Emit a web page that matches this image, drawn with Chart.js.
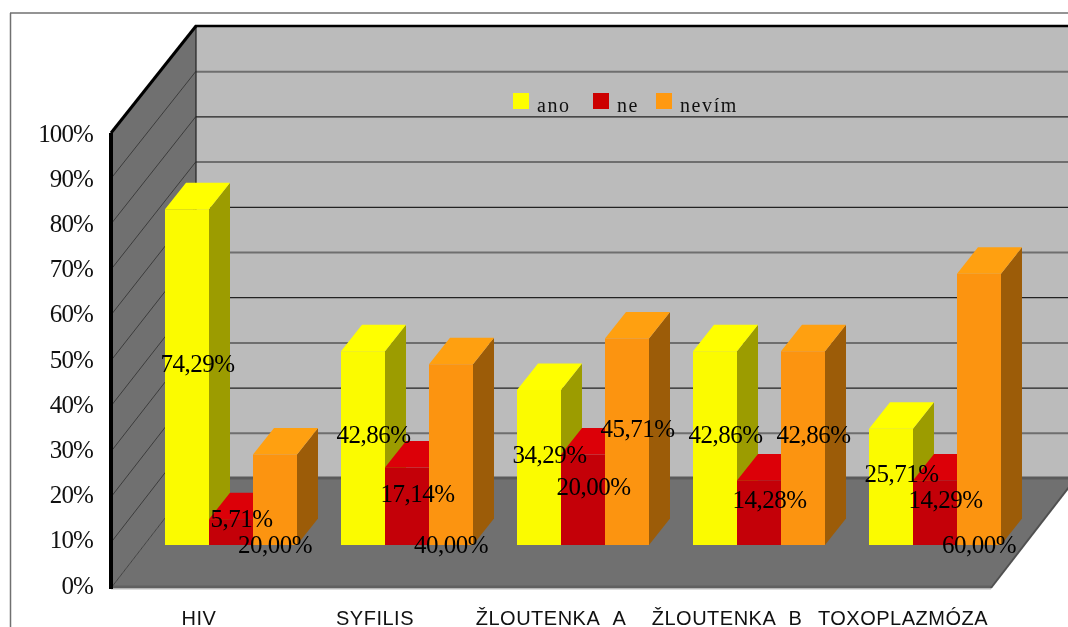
<!DOCTYPE html>
<html lang="cs">
<head>
<meta charset="utf-8">
<title>Graf</title>
<script src="https://cdn.jsdelivr.net/npm/chart.js@4"></script>
<style>
    html, body { margin: 0; padding: 0; background: #fff; overflow: hidden; }
    canvas { display: block; }
</style>
</head>
<body>
<canvas id="chart" width="1068" height="627"></canvas>
<script>
const categories = ['HIV', 'SYFILIS', 'ŽLOUTENKA  A', 'ŽLOUTENKA  B', 'TOXOPLAZMÓZA'];
const ano = [74.29, 42.86, 34.29, 42.86, 25.71];
const ne = [5.71, 17.14, 20.00, 14.28, 14.29];
const nevim = [20.00, 40.00, 45.71, 42.86, 60.00];
const yTicks = [0, 10, 20, 30, 40, 50, 60, 70, 80, 90, 100];
// "seriesIndex:categoryIndex" of the labels that sit at the foot of the bar
const labelsAtFoot = ['2:0', '2:1', '2:4'];

const colors = {
    ano: { front: '#FBFB00', top: '#FFFF00', side: '#9C9C00', legend: '#FFFF00' },
    ne: { front: '#C40008', top: '#DC0008', side: '#8A0006', legend: '#CC0000' },
    nevim: { front: '#FC9410', top: '#FFA010', side: '#9C5C08', legend: '#FF9910' }
};

// Bar depth and the shift from the bar plane to the front and back of the box
const depthX = 21, depthY = 26.5;
const frontX = -32, frontY = 43;
const backX = 53, backY = -67;

const serif = "'Liberation Serif', serif";
const sans = "'Liberation Sans', sans-serif";

function poly(ctx, pts, fill, stroke, width) {
    ctx.beginPath();
    pts.forEach((p, i) => i ? ctx.lineTo(p[0], p[1]) : ctx.moveTo(p[0], p[1]));
    ctx.closePath();
    if (fill) { ctx.fillStyle = fill; ctx.fill(); }
    if (stroke) { ctx.strokeStyle = stroke; ctx.lineWidth = width; ctx.stroke(); }
}

function line(ctx, x1, y1, x2, y2, color, width) {
    ctx.beginPath();
    ctx.moveTo(x1, y1);
    ctx.lineTo(x2, y2);
    ctx.strokeStyle = color;
    ctx.lineWidth = width;
    ctx.stroke();
}

// Walls, floor and grid of the box
const boxPlugin = {
    id: 'box',
    beforeDraw(chart) {
        const ctx = chart.ctx;
        const { x, y } = chart.scales;
        const left = x.left, right = x.right;
        const base = y.getPixelForValue(0), top = y.getPixelForValue(100);

        ctx.save();
        ctx.fillStyle = '#fff';
        ctx.fillRect(0, 0, chart.width, chart.height);
        line(ctx, 10.5, 13, 10.5, chart.height, '#707070', 1.5);
        line(ctx, 10, 13, chart.width, 13, '#707070', 1.5);

        poly(ctx, [[left + backX, top + backY], [right + backX, top + backY], [right + backX, base + backY], [left + backX, base + backY]], '#BBBBBB');
        poly(ctx, [[left + frontX, top + frontY - 3], [left + backX, top + backY], [left + backX, base + backY], [left + frontX, base + frontY]], '#707070');
        poly(ctx, [[left + frontX, base + frontY], [left + backX, base + backY], [right + backX, base + backY], [right + frontX, base + frontY]], '#707070');

        // floor edges
        line(ctx, left + frontX, base + frontY - 1, right + frontX, base + frontY - 1, '#606060', 3);
        line(ctx, left + frontX, base + frontY + 1, right + frontX, base + frontY + 1, '#BBBBBB', 1);
        line(ctx, right + frontX, base + frontY, right + backX, base + backY, '#505050', 2);

        yTicks.forEach((v, i) => {
            const py = y.getPixelForValue(v);
            const frontPy = base + frontY + (py - base) * 455 / 452;
            if (i > 0 && i < yTicks.length - 1) {
                line(ctx, left + frontX, frontPy, left + backX, py + backY, '#2e2e2e', 0.8);
                if (i % 2) {
                    line(ctx, left + backX, py + backY + 0.5, chart.width, py + backY + 0.5, '#6e6e6e', 2);
                } else {
                    line(ctx, left + backX, py + backY + 0.5, chart.width, py + backY + 0.5, '#222', 1.2);
                }
            } else if (i === 0) {
                line(ctx, left + frontX, frontPy, left + backX, py + backY, '#2e2e2e', 0.8);
                line(ctx, left + backX, py + backY, chart.width, py + backY, '#5a5a5a', 3);
            }
        });

        line(ctx, left + backX, top + backY, left + backX, base + backY, '#222', 1.2);
        line(ctx, left + backX - 1, top + backY, chart.width, top + backY, '#000', 2.5);
        line(ctx, left + frontX, base + frontY + 1, left + frontX, top + frontY - 3, '#000', 4);
        line(ctx, left + frontX, top + frontY - 3, left + backX, top + backY, '#000', 3);
        ctx.restore();
    },
    // Tops and right sides go under the bar fronts, left to right
    beforeDatasetsDraw(chart) {
        const ctx = chart.ctx;
        const keys = ['ano', 'ne', 'nevim'];
        ctx.save();
        categories.forEach((c, ci) => {
            keys.forEach((k, si) => {
                const bar = chart.getDatasetMeta(si).data[ci];
                const l = bar.x - bar.width / 2, r = bar.x + bar.width / 2;
                const t = bar.y, b = bar.base;
                poly(ctx, [[r, t], [r + depthX, t - depthY], [r + depthX, b - depthY], [r, b]], colors[k].side);
                poly(ctx, [[l, t], [l + depthX, t - depthY], [r + depthX, t - depthY], [r, t]], colors[k].top);
            });
        });
        ctx.restore();
    },
    afterDatasetsDraw(chart) {
        const ctx = chart.ctx;
        ctx.save();

        // value labels
        ctx.font = '25px ' + serif;
        ctx.letterSpacing = '-0.5px';
        ctx.fillStyle = '#000';
        ctx.textAlign = 'center';
        ctx.textBaseline = 'middle';
        chart.data.datasets.forEach((ds, si) => {
            chart.getDatasetMeta(si).data.forEach((bar, ci) => {
                const text = ds.data[ci].toFixed(2).replace('.', ',') + '%';
                if (labelsAtFoot.includes(si + ':' + ci)) {
                    ctx.fillText(text, bar.x, bar.base + 1);
                } else {
                    ctx.fillText(text, bar.x + depthX / 2, (bar.y + bar.base - depthY) / 2 + 2);
                }
            });
        });

        // legend
        const legendX = [513, 593, 656];
        ctx.font = '20px ' + serif;
        ctx.letterSpacing = '1.6px';
        ctx.textAlign = 'left';
        ctx.textBaseline = 'alphabetic';
        chart.data.datasets.forEach((ds, si) => {
            ctx.fillStyle = ds.legendColor;
            ctx.fillRect(legendX[si], 93, 16, 16);
            ctx.fillStyle = '#111';
            ctx.fillText(ds.label, legendX[si] + 24, 112);
        });
        ctx.restore();
    }
};

// Wider letter spacing on the category axis, tighter on the percent axis
const spacingPlugin = {
    id: 'spacing',
    beforeLayout(chart) {
        [['x', '0.5px'], ['y', '-0.9px']].forEach(([id, spacing]) => {
            const scale = chart.scales[id];
            if (scale.spaced) return;
            const draw = scale.draw;
            scale.draw = function(area) {
                chart.ctx.letterSpacing = spacing;
                draw.call(this, area);
                chart.ctx.letterSpacing = '0px';
            };
            scale.spaced = true;
        });
    }
};

new Chart(document.getElementById('chart'), {
    type: 'bar',
    data: {
        labels: categories,
        datasets: [
            { label: 'ano', data: ano, backgroundColor: colors.ano.front, legendColor: colors.ano.legend },
            { label: 'ne', data: ne, backgroundColor: colors.ne.front, legendColor: colors.ne.legend },
            { label: 'nevím', data: nevim, backgroundColor: colors.nevim.front, legendColor: colors.nevim.legend }
        ]
    },
    options: {
        responsive: false,
        animation: false,
        layout: { padding: { top: 93, right: 45, left: 0, bottom: 0 } },
        datasets: { bar: { categoryPercentage: 0.75, barPercentage: 1, borderWidth: 0 } },
        plugins: {
            legend: { display: false },
            tooltip: { enabled: false }
        },
        scales: {
            x: {
                grid: { display: false },
                border: { display: false },
                afterFit(scale) {
                    scale.height = 82;
                    scale.paddingLeft = 0;
                    scale.paddingRight = 0;
                },
                ticks: {
                    autoSkip: false,
                    maxRotation: 0,
                    minRotation: 0,
                    padding: 54,
                    labelOffset: -32,
                    color: '#111',
                    font: { family: sans, size: 20 }
                }
            },
            y: {
                min: 0,
                max: 100,
                afterBuildTicks(scale) { scale.ticks = yTicks.map(v => ({ value: v })); },
                afterFit(scale) {
                    scale.width = 143;
                    scale.paddingTop = 0;
                    scale.paddingBottom = 0;
                },
                grid: { display: false, drawTicks: false },
                border: { display: false },
                ticks: {
                    padding: 50,
                    labelOffset: 42,
                    color: '#111',
                    font: { family: serif, size: 25 },
                    callback: v => v + '%'
                }
            }
        }
    },
    plugins: [boxPlugin, spacingPlugin]
});
</script>
</body>
</html>
